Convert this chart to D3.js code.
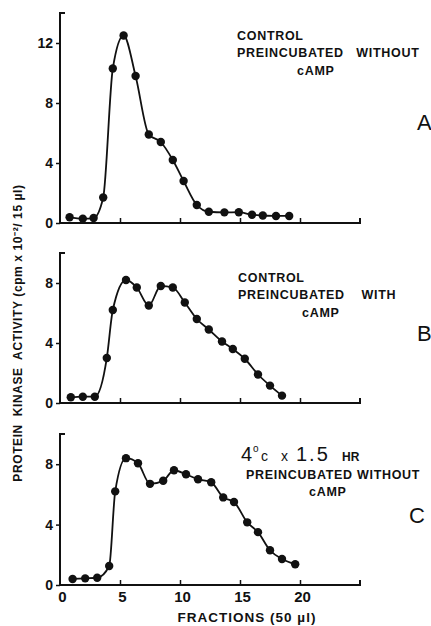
<!DOCTYPE html>
<html><head><meta charset="utf-8">
<script src="https://cdn.jsdelivr.net/npm/d3@7"></script>
<style>
body{margin:0;background:#fff;}
text{font-family:"Liberation Sans",Arial,sans-serif;fill:#111;}
</style></head>
<body><svg id="c" width="431" height="626"></svg>
<script>
// ---- data ----
const fractionsA = [0.8,1.9,2.8,3.6,4.4,5.3,6.3,7.4,8.4,9.4,10.3,11.4,12.4,13.7,14.9,16.0,16.9,18.0,19.1];
const activityA  = [0.38,0.29,0.33,1.7,10.3,12.5,9.8,5.9,5.4,4.2,2.8,1.2,0.75,0.71,0.72,0.55,0.5,0.47,0.47];
const fractionsB = [0.9,1.9,2.9,3.9,4.4,5.5,6.4,7.4,8.4,9.4,10.4,11.4,12.4,13.5,14.4,15.4,16.5,17.5,18.5];
const activityB  = [0.38,0.42,0.42,3.0,6.2,8.2,7.7,6.5,7.8,7.7,6.7,5.6,4.9,4.1,3.6,2.95,1.9,1.16,0.49];
const fractionsC = [1.05,2.1,3.1,4.1,4.6,5.5,6.5,7.5,8.6,9.5,10.5,11.5,12.6,13.6,14.5,15.6,16.5,17.5,18.5,19.6];
const activityC  = [0.4,0.44,0.48,1.26,6.2,8.4,8.06,6.7,6.9,7.6,7.33,7.0,6.8,5.8,5.5,4.15,3.5,2.3,1.72,1.37];
const xTicks = [0,5,10,15,20];
const yTicksA = [0,4,8,12];
const yTicksBC = [0,4,8];
const panelLetters = ["A","B","C"];

const svg = d3.select("#c");
const x = d3.scaleLinear().domain([0,25]).range([60,360]);

const panels = [
  {fx:fractionsA, fy:activityA, y:d3.scaleLinear().domain([0,14]).range([223,13]), ticks:yTicksA, letter:panelLetters[0], lx:417, ly:130, showX:false},
  {fx:fractionsB, fy:activityB, y:d3.scaleLinear().domain([0,10]).range([403,253]), ticks:yTicksBC, letter:panelLetters[1], lx:417, ly:341, showX:false},
  {fx:fractionsC, fy:activityC, y:d3.scaleLinear().domain([0,10]).range([585,434]), ticks:yTicksBC, letter:panelLetters[2], lx:409, ly:523, showX:true}
];

panels.forEach(p => {
  const g = svg.append("g");
  const y = p.y;
  const ya = g.append("g").attr("transform",`translate(${x(0)},0)`)
    .call(d3.axisLeft(y).tickValues(p.ticks).tickSize(4).tickPadding(3).tickFormat(d3.format("d")));
  ya.select(".domain").remove();
  ya.selectAll(".tick line").attr("stroke","#111").attr("stroke-width",1.5);
  ya.selectAll(".tick text").attr("font-size",14).attr("font-weight","bold").attr("font-family","Liberation Sans, Arial, sans-serif").attr("fill","#111");
  const [y0,y1] = y.range();
  g.append("path").attr("d",`M${x(0)+5},${y1}H${x(0)}V${y0}H${x(25)}V${y0-5}`)
    .attr("fill","none").attr("stroke","#111").attr("stroke-width",2);
  const xa = g.append("g").attr("transform",`translate(0,${y0})`)
    .call(d3.axisTop(x).tickValues([5,10,15,20]).tickSize(5).tickFormat(""));
  xa.select(".domain").remove();
  xa.selectAll(".tick line").attr("stroke","#111").attr("stroke-width",1.5);
  if (p.showX) {
    const xb = g.append("g").attr("transform",`translate(0,${y0})`)
      .call(d3.axisBottom(x).tickValues(xTicks).tickSize(0).tickPadding(6).tickFormat(d3.format("d")));
    xb.select(".domain").remove();
    xb.selectAll(".tick text").attr("font-size",15).attr("font-weight","bold").attr("font-family","Liberation Sans, Arial, sans-serif").attr("fill","#111").attr("dx",2);
  }
  const pts = p.fx.map((v,i)=>[v,p.fy[i]]);
  const line = d3.line().x(d=>x(d[0])).y(d=>y(d[1])).curve(d3.curveMonotoneX);
  g.append("path").datum(pts).attr("d",line).attr("fill","none").attr("stroke","#111").attr("stroke-width",1.8);
  g.selectAll("circle").data(pts).join("circle")
    .attr("cx",d=>x(d[0])).attr("cy",d=>y(d[1])).attr("r",4.2).attr("fill","#111");
  g.append("text").attr("x",p.lx).attr("y",p.ly).attr("font-size",22).text(p.letter);
});

// annotations
function ann(lines){
  lines.forEach(l=>{
    svg.append("text").attr("x",l[0]).attr("y",l[1]).attr("font-size",l[3]||12.5).attr("font-weight","bold")
      .attr("letter-spacing",l[4]===undefined?0.7:l[4]).attr("xml:space","preserve").style("white-space","pre").text(l[2]);
  });
}
ann([[237,40,"CONTROL"],[237,57,"PREINCUBATED   WITHOUT"],[297,75,"cAMP"]]);
ann([[238,282,"CONTROL"],[238,299,"PREINCUBATED    WITH"],[302,317,"cAMP"]]);
ann([[246,479,"PREINCUBATED WITHOUT"],[309,496,"cAMP"]]);
const t = svg.append("text").attr("y",461);
t.append("tspan").attr("x",241).attr("font-size",20).text("4");
t.append("tspan").attr("x",253).attr("y",452).attr("font-size",10).text("o");
t.append("tspan").attr("x",261).attr("y",461).attr("font-size",14).text("c");
t.append("tspan").attr("x",281).attr("font-size",14).text("x");
t.append("tspan").attr("x",296).attr("font-size",20).attr("letter-spacing",2).text("1.5");
t.append("tspan").attr("x",342).attr("font-size",12).attr("font-weight","bold").text("HR");

// axis titles
svg.append("text").attr("x",247).attr("y",622).attr("text-anchor","middle")
  .attr("font-size",13.5).attr("font-weight","bold").attr("letter-spacing",1).text("FRACTIONS (50 µl)");
svg.append("text").attr("transform","translate(22,333) rotate(-90)").attr("text-anchor","middle")
  .attr("font-size",12).attr("font-weight","bold").attr("letter-spacing",0.6)
  .attr("xml:space","preserve").style("white-space","pre")
  .text("PROTEIN  KINASE  ACTIVITY (cpm x 10⁻²/ 15 µl)");
</script></body></html>
